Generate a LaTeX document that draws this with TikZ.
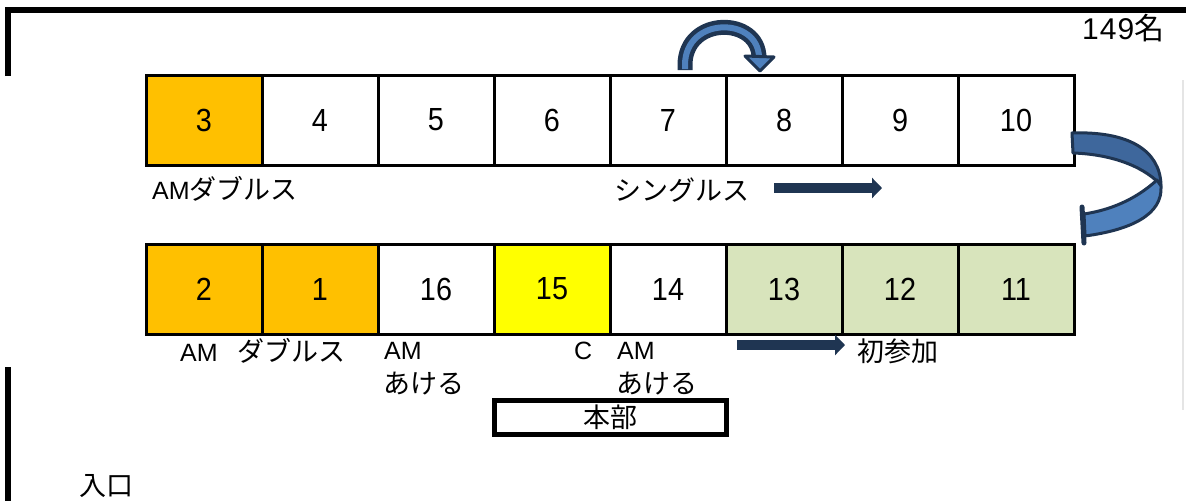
\documentclass[tikz,border=0pt]{standalone}
\usepackage{fontspec}
\setmainfont{Liberation Sans}
\newfontfamily\jp{Noto Sans CJK JP}
\newfontfamily\numfont[FakeStretch=0.9]{Liberation Sans}
\usetikzlibrary{arrows.meta}
\usetikzlibrary{positioning}

\definecolor{ambox}{HTML}{FFC000}
\definecolor{cbox}{HTML}{FFFF00}
\definecolor{newbox}{HTML}{D8E4BC}
\definecolor{navy}{HTML}{1F3552}
\definecolor{ribbontop}{HTML}{3E679C}
\definecolor{ribbonlow}{HTML}{4F81BD}

\newcommand{\jtext}[1]{{\jp\fontsize{27}{27}\selectfont #1}}

\tikzset{
    cell/.style={draw, line width=3pt, minimum width=116pt, minimum height=90pt, inner sep=0pt,
        font=\numfont\fontsize{32}{32}\selectfont},
    lbl/.style={anchor=west, inner sep=0pt, font=\fontsize{25}{25}\selectfont},
    flow/.style={navy, line width=10pt, -{Triangle[length=10pt,width=20pt]}},
    wall/.style={line width=6pt},
    hqbox/.style={draw, line width=5pt, minimum width=232pt, minimum height=34pt, inner sep=0pt},
}

\begin{document}
\begin{tikzpicture}[x=1pt, y=-1pt]
        \useasboundingbox (0,0) rectangle (1186,501);

        % Walls
        \draw[wall] (8,76) -- (8,10) -- (1186,10);
        \draw[wall] (8,367) -- (8,501);
        \draw[gray!20, line width=2pt] (1183,80) -- (1183,410);

        % Top row: 3 ... 10
        \begin{scope}
            \def\y{120} % row centre
            \foreach \n/\c [count=\i from 0] in {3/ambox,4/white,5/white,6/white,7/white,8/white,9/white,10/white} {
                \node[cell, fill=\c] (t\n) at ({204+116*\i},\y) {\n}; % Table
            }
            \node[lbl] (amdbl) at (152,189) {AM\jtext{ダブルス}};
            \node[lbl] (sgl) at (614,190) {\jtext{シングルス}};
            \coordinate (sgla) at (774,188);
            \coordinate (sglb) at (882,188);
            \draw[flow] (sgla) -- (sglb);
        \end{scope}

        % Bottom row: 2, 1, 16 ... 11
        \begin{scope}
            \def\y{289} % row centre
            \foreach \n/\c [count=\i from 0] in {2/ambox,1/ambox,16/white,15/cbox,14/white,13/newbox,12/newbox,11/newbox} {
                \node[cell, fill=\c] (b\n) at ({204+116*\i},\y) {\n}; % Table
            }
            \node[lbl] (amdbl2) at (180,351) {AM\hspace{20pt}\jtext{ダブルス}};
            \node[lbl] (am16) at (384,351) {AM};
            \node[lbl] (ak16) at (383,384) {\jtext{あける}};
            \node[lbl] (c15) at (574,351) {C};
            \node[lbl] (am14) at (617,351) {AM};
            \node[lbl] (ak14) at (616,384) {\jtext{あける}};
            \node[lbl] (first) at (857,351) {\jtext{初参加}};
            \coordinate (fsta) at (737,345);
            \coordinate (fstb) at (845,345);
            \draw[flow] (fsta) -- (fstb);
        \end{scope}

        % Headquarters and entrance
        \node[hqbox] (hq) at (610.5,417.5) {\jtext{本部}};
        \node[lbl] (door) at (79,486) {\jtext{入口}};
        \node[lbl] (count) at (1082,28) {\fontsize{30}{30}\selectfont 1\kern1pt4\kern1pt9{\jp 名}};

        % Jump arrow over 7 -> 8
        \draw[navy, line width=15pt] (685,70) -- (685,65) .. controls (685,16) and (759,16) .. (759,58);
        \draw[ribbonlow, line width=6pt] (685,69) -- (685,65) .. controls (685,16) and (759,16) .. (759,58);
        \filldraw[fill=ribbonlow, draw=navy, line width=3pt, line join=round] (745,56) -- (774,57) -- (760,71) -- cycle;

        % U-turn arrow 10 -> 11
        \filldraw[fill=ribbontop, draw=navy, line width=3pt, line join=round]
            (1072,133) .. controls (1128,131) and (1160,150) .. (1161,185)
            .. controls (1140,163) and (1105,154) .. (1073,153) -- cycle;
        \filldraw[fill=ribbonlow, draw=navy, line width=3pt, line join=round]
            (1157,180) .. controls (1135,200) and (1110,210) .. (1084,214)
            -- (1085,236) .. controls (1130,230) and (1163,215) .. (1161,186) -- cycle;
        \draw[navy, line width=5pt, line cap=round] (1082,207) -- (1084,243);
\end{tikzpicture}
\end{document}
